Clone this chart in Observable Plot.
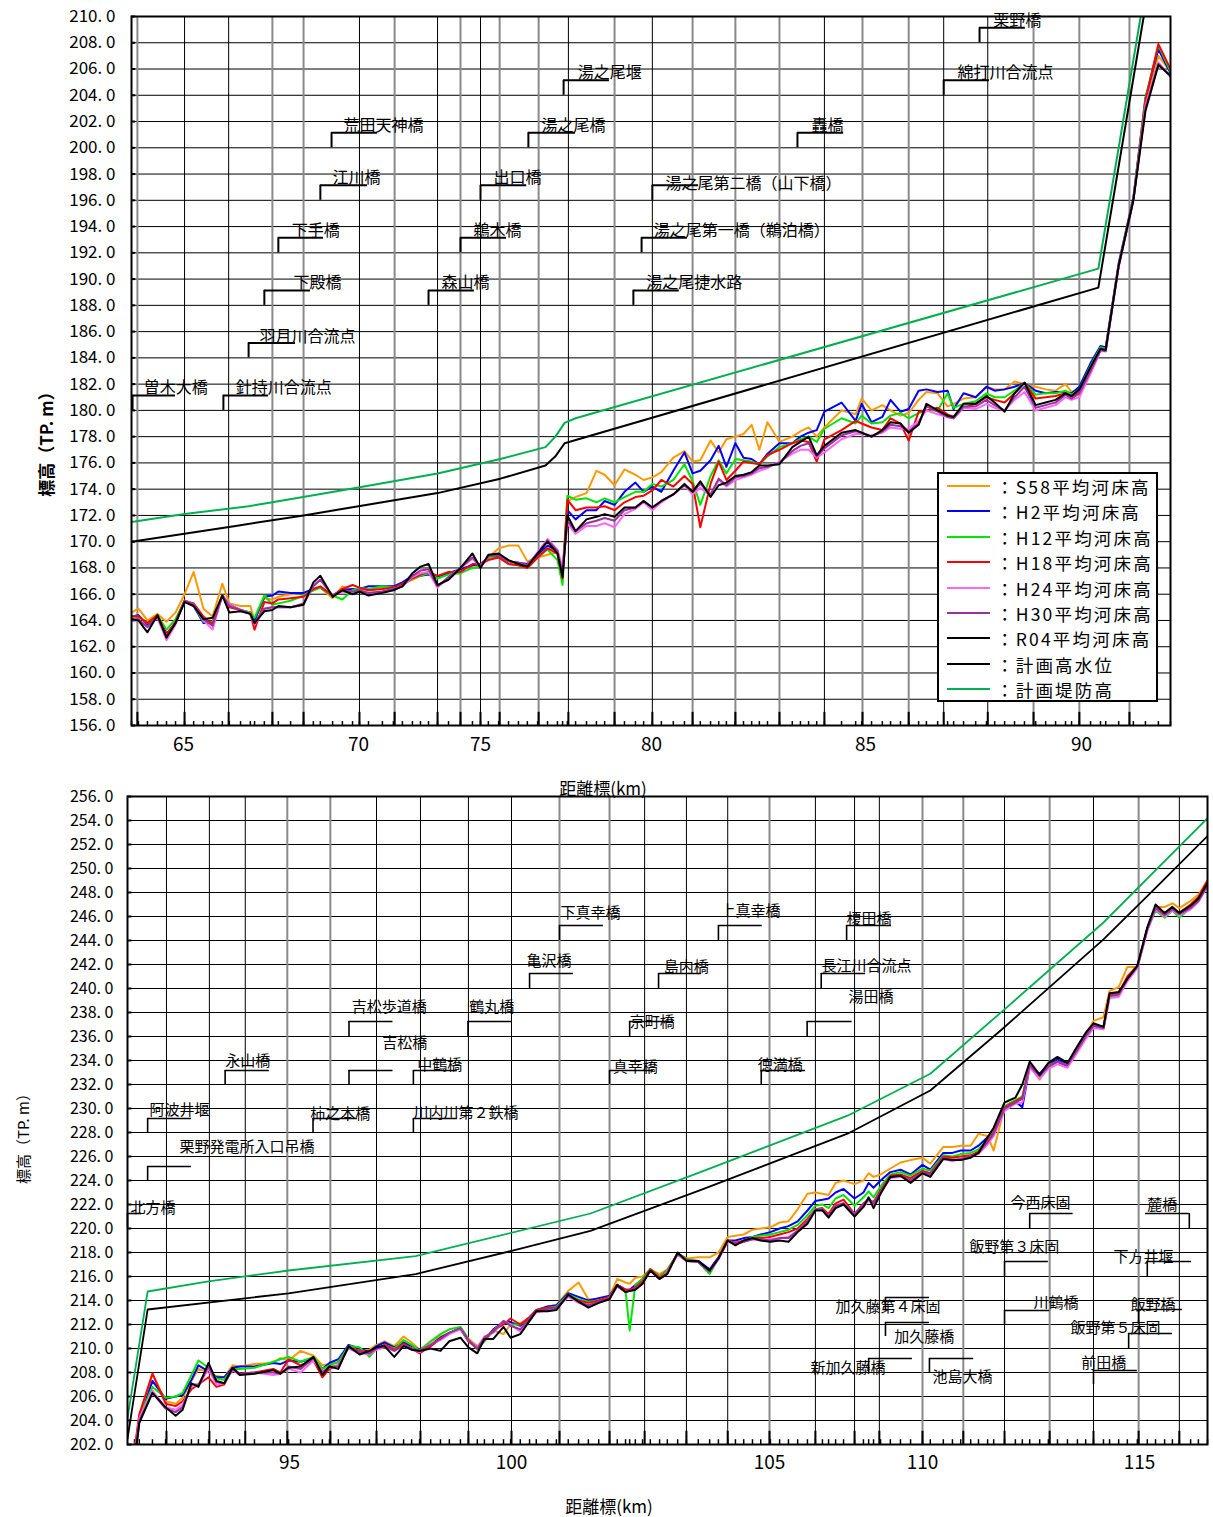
<!DOCTYPE html>
<html>
<head>
<meta charset="utf-8">
<script src="https://cdn.jsdelivr.net/npm/d3@7"></script>
<script src="https://cdn.jsdelivr.net/npm/@observablehq/plot@0.6"></script>
<style>
  body { margin: 0; background: #fff; font-family: "Noto Sans CJK JP", sans-serif; color: #000; }
  #page { position: relative; width: 1213px; height: 1517px; overflow: hidden; background: #fff; }
  .lbl { position: absolute; white-space: nowrap; transform: translate(-50%, -50%); line-height: 1; }
  .rot { transform: translate(-50%, -50%) rotate(-90deg); }
  #legend { position: absolute; left: 937px; top: 472px; width: 217px; height: 226px; border: 2px solid #000; background: #fff; }
  #legend .row { position: absolute; left: 0; height: 25px; width: 100%; }
  #legend .sw { position: absolute; left: 8px; top: 11px; width: 43px; height: 2px; }
  #legend .tx { position: absolute; left: 57px; top: 0; font-size: 17.5px; line-height: 25px; letter-spacing: 2.2px; white-space: nowrap; }
</style>
</head>
<body>
<div id="page"></div>
<script>
// ---- series ----
const seriesNames = ["S58平均河床高", "H2平均河床高", "H12平均河床高", "H18平均河床高", "H24平均河床高", "H30平均河床高", "R04平均河床高"];
const seriesColors = ["#ff9900", "#0000ff", "#00e600", "#ff0000", "#ff66ff", "#993399", "#000000"];
const planNames = ["計画高水位", "計画堤防高"];
const planColors = ["#000000", "#00b050"];

// ---- upper reach (63.5 – 92 km) ----
const topKm = [
  63.50,63.70,63.96,64.25,64.51,64.77,65.03,65.29,65.57,65.83,
  66.11,66.31,66.63,66.91,67.03,67.31,67.54,67.71,68.06,68.43,
  68.71,68.91,69.26,69.54,69.83,70.04,70.41,70.98,71.43,71.80,
  72.21,72.54,72.87,73.24,73.69,74.18,74.67,75.00,75.23,75.53,
  75.82,76.11,76.37,76.67,76.96,77.25,77.40,77.54,77.78,78.10,
  78.39,78.63,78.92,79.21,79.53,79.77,80.02,80.23,80.51,80.77,
  80.96,81.14,81.38,81.57,81.75,81.96,82.15,82.34,82.52,82.71,
  82.99,83.29,83.48,83.67,83.86,84.04,84.44,84.77,84.91,85.14,
  85.39,85.58,85.81,86.00,86.23,86.41,86.67,86.90,87.04,87.27,
  87.55,87.80,87.99,88.22,88.45,88.68,88.94,89.17,89.40,89.63,
  89.77,89.95,90.21,90.44,90.56,90.86,91.20,91.48,91.78,92.06
];
const topS58 = [
  164.6,164.9,164.0,164.5,163.9,164.6,166.0,167.7,164.9,164.3,
  166.8,165.3,165.1,165.1,164.0,165.7,165.6,165.8,166.0,166.1,
  166.3,166.5,165.7,166.6,166.3,166.4,166.3,166.5,166.6,166.8,
  167.1,167.4,167.7,167.3,167.6,167.9,168.2,168.1,168.8,169.5,
  169.7,169.7,168.5,168.8,169.0,169.2,167.9,173.1,173.4,173.7,
  175.4,175.1,174.3,175.5,175.1,174.7,174.9,175.3,176.4,176.9,
  176.1,176.2,177.7,176.8,177.8,178.0,178.2,178.9,177.0,179.1,
  177.6,178.0,178.4,178.7,178.0,178.7,180.0,179.7,180.9,180.0,
  180.4,180.0,179.6,179.8,180.8,181.4,181.3,180.3,180.5,180.9,
  181.0,181.8,181.6,181.6,182.2,182.0,181.8,181.6,181.5,182.0,
  181.4,181.6,183.3,184.8,184.7,191.0,196.0,203.5,207.0,205.8
];
const topH2 = [
  164.3,164.4,163.7,164.4,163.0,163.8,165.5,165.1,163.8,163.8,
  165.9,165.2,164.8,164.6,164.0,165.8,165.9,166.2,166.1,166.1,
  166.4,166.5,165.9,166.3,166.4,166.4,166.6,166.6,166.6,166.9,
  167.4,167.4,167.5,167.3,167.6,167.9,168.2,168.3,168.8,168.9,
  168.5,168.4,168.3,169.0,169.7,169.3,167.6,172.4,171.7,172.4,
  172.4,173.1,172.8,173.8,174.5,173.8,174.2,173.8,175.4,176.8,
  175.2,175.4,176.2,177.3,175.7,177.5,176.4,176.3,175.9,176.7,
  177.5,177.5,178.0,178.3,178.5,179.9,180.6,179.2,180.5,179.1,
  179.5,180.8,179.9,180.1,181.5,181.6,181.4,181.5,180.1,181.3,
  181.0,181.8,181.5,181.6,181.8,182.1,181.5,181.3,181.4,181.4,
  181.3,181.8,183.6,184.9,184.8,191.2,196.2,203.8,207.5,205.7
];
const topH12 = [
  164.3,164.3,163.8,164.4,163.3,164.1,165.5,165.2,163.9,163.9,
  165.9,165.1,164.8,164.6,164.2,165.9,165.2,165.3,165.5,165.9,
  166.3,166.5,165.9,165.6,166.3,166.5,166.4,166.6,166.5,166.7,
  167.2,167.4,167.6,167.2,167.5,167.6,168.0,168.1,168.8,168.8,
  168.3,168.2,168.0,168.8,169.4,168.6,166.7,173.5,173.2,173.3,
  173.0,173.3,173.0,173.4,173.8,173.8,174.4,174.2,174.7,175.9,
  174.6,172.8,175.0,176.2,175.2,176.3,176.2,176.1,175.9,176.5,
  177.2,177.5,177.8,178.0,177.6,178.6,179.4,179.0,179.6,179.0,
  179.1,179.6,179.8,179.4,179.8,180.0,180.0,181.3,180.2,180.5,
  180.7,181.3,181.0,181.0,181.5,182.1,181.2,181.3,181.3,181.5,
  181.2,181.6,183.4,184.8,184.7,191.1,196.1,203.8,207.8,205.8
];
const topH18 = [
  164.3,164.3,163.8,164.4,162.9,163.9,165.5,165.3,164.3,163.7,
  165.9,165.0,164.8,164.5,163.3,165.4,165.3,165.6,165.7,165.8,
  166.4,166.6,165.9,166.4,166.7,166.5,166.3,166.4,166.5,166.8,
  167.2,167.5,167.7,167.4,167.7,167.7,168.3,168.3,168.6,168.8,
  168.3,168.2,168.0,168.8,169.5,169.1,167.2,173.2,172.4,172.6,
  172.6,172.7,172.4,173.0,173.4,173.5,173.9,174.7,174.2,175.0,
  174.4,171.1,174.4,176.1,174.7,175.4,176.1,176.0,175.9,176.6,
  177.0,177.5,177.7,177.6,176.1,177.8,178.5,179.2,179.0,178.7,
  178.5,179.4,179.0,177.7,179.9,180.0,180.2,179.7,179.5,180.2,
  180.5,181.0,180.8,180.6,181.3,182.1,180.9,181.0,181.1,181.3,
  181.0,181.4,183.2,184.6,184.6,191.0,196.0,203.6,207.9,206.0
];
const topH24 = [
  164.0,164.0,163.5,164.2,162.5,163.7,165.5,165.2,164.0,163.3,
  165.9,165.2,164.8,164.5,163.7,164.9,165.0,165.0,165.0,165.2,
  166.7,167.1,165.9,166.2,166.1,166.3,166.1,166.2,166.4,166.6,
  167.3,167.6,167.7,166.5,167.3,168.0,168.7,168.1,168.9,169.0,
  168.5,168.4,168.2,169.2,170.2,169.4,168.0,171.4,170.6,171.2,
  171.2,171.4,171.1,172.1,172.5,173.0,172.4,173.0,173.6,174.3,
  173.6,174.1,173.5,174.7,174.2,174.7,174.9,175.1,175.4,175.6,
  176.1,176.7,177.0,177.0,176.4,176.8,177.8,178.2,178.2,178.1,
  178.3,178.7,178.6,178.6,179.2,180.0,179.7,179.5,179.4,180.2,
  180.1,180.5,180.2,180.0,180.8,181.4,180.0,180.2,180.4,181.0,
  180.8,181.0,182.8,184.5,184.5,190.9,196.0,203.2,206.5,205.4
];
const topH30 = [
  164.1,164.1,163.5,164.3,162.7,163.8,165.5,165.2,164.1,163.6,
  165.9,165.1,164.8,164.5,163.8,164.9,165.0,165.0,165.0,165.3,
  166.6,167.1,165.9,166.3,166.2,166.3,166.1,166.2,166.4,166.6,
  167.4,167.8,167.9,166.6,167.3,168.0,168.8,168.1,168.9,169.0,
  168.5,168.4,168.2,169.1,170.1,169.3,167.6,171.6,170.8,171.4,
  171.6,171.8,171.6,172.4,172.6,173.1,172.6,173.1,173.6,174.3,
  173.8,174.4,173.6,174.8,174.3,174.9,175.0,175.2,175.6,175.7,
  176.0,176.9,177.3,177.5,176.5,177.1,178.1,178.4,178.3,178.0,
  178.4,178.9,178.8,178.4,179.0,180.3,179.9,179.5,179.4,180.3,
  180.3,180.8,180.4,180.0,181.0,181.8,180.2,180.4,180.6,181.2,
  180.9,181.3,183.0,184.6,184.5,191.0,196.0,203.0,206.4,205.4
];
const topR04 = [
  164.1,164.0,163.1,164.4,162.7,163.8,165.4,165.1,164.1,164.2,
  165.9,164.6,164.7,164.5,163.8,164.7,164.8,165.1,165.0,165.2,
  166.9,167.4,165.8,166.3,166.0,166.2,165.9,166.1,166.3,166.6,
  167.6,168.1,168.3,166.7,167.1,168.0,169.1,168.0,169.0,169.1,
  168.6,168.3,168.1,169.1,170.0,169.1,167.3,172.0,170.8,171.7,
  171.9,172.1,171.9,172.6,172.6,173.1,172.6,173.1,173.6,174.4,
  173.8,174.6,173.4,174.3,174.5,175.0,175.1,175.3,175.8,175.8,
  175.9,177.2,177.6,178.0,176.6,177.3,178.3,178.5,178.3,178.0,
  178.5,179.1,179.0,178.3,178.9,180.5,180.0,179.6,179.5,180.5,
  180.5,181.1,180.6,179.9,181.3,182.1,180.4,180.6,180.8,181.3,
  181.1,181.6,183.3,184.7,184.6,191.0,196.0,202.8,206.3,205.5
];
const topHwlKm = [63.50, 66.49, 68.43, 70.00, 73.24, 75.58, 76.90, 77.19, 77.46, 90.39, 91.44];
const topHwl   = [170.0, 171.2, 172.0, 172.7, 173.7, 174.8, 175.8, 176.5, 177.5, 189.35, 210.0];
const topLeveeKm = [63.50, 65.03, 66.86, 67.54, 69.71, 73.24, 75.58, 76.90, 77.19, 77.46, 77.78, 90.39, 91.37];
const topLevee   = [171.5, 172.1, 172.7, 173.0, 174.0, 175.2, 176.3, 177.2, 178.0, 179.05, 179.4, 190.8, 210.0];
const topXTicks = [65, 70, 75, 80, 85, 90];
const topGridDark = [65.03, 66.29, 70.04, 73.24, 75.00, 77.57, 80.02, 84.04, 86.81, 87.83];
const topGridLight = [63.67, 67.54, 68.43, 71.48, 74.18, 75.56, 76.70, 78.92, 80.96, 81.96, 82.99, 84.93, 86.00, 88.89, 89.95, 91.11];
// [name, km, base, top, end km, text km, text elevation]
const topNotes = [
  ["曽木大橋", 63.53, 180, 181.14, 64.77, 63.85, 181.7],
  ["針持川合流点", 66.14, 180, 181.14, 67.43, 66.49, 181.7],
  ["羽月川合流点", 66.86, 184, 185.14, 68.20, 67.17, 185.6],
  ["下殿橋", 67.31, 188, 189.14, 68.63, 68.14, 189.7],
  ["下手橋", 67.71, 192, 193.14, 69.00, 68.09, 193.7],
  ["江川橋", 68.91, 196, 197.14, 70.37, 69.26, 197.7],
  ["荒田天神橋", 69.23, 200, 201.14, 70.78, 69.57, 201.7],
  ["森山橋", 72.87, 188, 189.14, 74.75, 73.40, 189.7],
  ["鵜木橋", 74.18, 192, 193.14, 75.76, 74.71, 193.7],
  ["出口橋", 75.00, 196, 197.14, 76.35, 75.38, 197.7],
  ["湯之尾橋", 76.40, 200, 201.14, 77.78, 76.78, 201.7],
  ["湯之尾堰", 77.43, 204, 205.14, 78.77, 77.84, 205.7],
  ["湯之尾捷水路", 79.47, 188, 189.14, 80.65, 79.85, 189.7],
  ["湯之尾第一橋（鵜泊橋）", 79.71, 192, 193.14, 80.84, 80.05, 193.7],
  ["湯之尾第二橋（山下橋）", 80.02, 196, 197.14, 81.10, 80.33, 197.25],
  ["轟橋", 83.41, 200, 201.14, 84.49, 83.74, 201.7],
  ["綿打川合流点", 86.81, 204, 205.14, 87.87, 87.13, 205.7],
  ["栗野橋", 87.64, 208, 209.14, 88.70, 87.96, 209.7]
];

// ---- lower reach (91.3 – 116.6 km) ----
const botKm = [
  91.46,91.57,91.87,92.17,92.40,92.56,92.76,92.92,93.15,93.33,
  93.51,93.70,93.86,94.20,94.63,94.79,94.98,95.25,95.54,95.74,
  95.90,96.10,96.33,96.58,96.80,96.96,97.14,97.36,97.57,97.75,
  97.93,98.18,98.40,98.60,98.85,99.03,99.23,99.39,99.59,99.82,
  99.98,100.17,100.35,100.48,100.70,100.87,101.10,101.30,101.49,101.69,
  101.90,102.05,102.21,102.29,102.40,102.54,102.69,102.87,103.02,103.22,
  103.39,103.62,103.84,104.01,104.19,104.34,104.50,104.67,104.83,105.03,
  105.33,105.62,105.92,106.24,106.50,106.73,106.93,107.16,107.42,107.78,
  108.07,108.24,108.40,108.63,108.95,109.28,109.61,110.00,110.18,110.48,
  110.69,110.88,111.11,111.29,111.50,111.64,111.89,112.14,112.30,112.47,
  112.70,112.90,113.11,113.34,113.57,113.76,113.94,114.17,114.31,114.52,
  114.72,114.95,115.18,115.37,115.58,115.76,115.92,116.18,116.36,116.57
];
const botS58 = [
  201.5,204.5,207.9,205.6,205.4,205.9,207.3,208.3,208.0,207.7,
  207.6,208.6,208.5,208.7,208.8,209.2,209.0,209.8,209.4,208.6,
  208.7,208.8,210.2,209.8,209.9,210.3,210.6,210.2,211.0,210.5,
  209.9,210.6,211.0,211.3,211.7,210.8,210.2,210.8,211.5,211.2,
  212.0,212.1,212.6,213.2,213.5,213.6,214.8,215.5,214.1,214.1,
  214.3,215.8,215.5,215.4,215.9,216.0,216.6,216.2,216.6,217.9,
  217.5,217.6,217.6,218.0,219.3,219.4,219.5,219.9,220.0,220.1,
  220.5,220.6,221.6,222.9,223.0,222.9,222.8,223.8,224.0,223.7,
  224.0,224.6,224.3,224.5,225.0,225.5,225.7,225.9,225.4,226.8,
  226.8,226.9,226.9,227.9,227.7,226.5,230.1,230.6,230.9,233.6,
  232.4,233.6,234.0,233.7,235.0,236.2,237.3,237.6,239.8,240.1,
  241.8,241.8,245.0,246.8,246.8,247.1,246.7,247.3,247.8,249.0
];
const botH2 = [
  200.5,204.0,207.3,205.8,206.0,206.1,207.4,208.6,208.1,207.6,
  207.6,208.4,208.5,208.5,208.8,208.7,209.0,208.9,209.2,208.3,
  208.8,209.1,210.3,210.0,209.7,210.2,210.5,210.1,210.5,210.2,
  209.9,210.3,210.9,211.3,211.7,210.6,210.1,210.7,211.6,212.2,
  212.2,211.9,212.6,213.2,213.5,213.6,214.6,214.3,214.0,214.2,
  214.4,215.3,214.9,214.9,215.3,215.8,216.6,216.0,216.5,217.9,
  217.4,217.3,216.6,217.6,219.0,219.0,219.2,219.3,219.5,219.7,
  220.0,220.2,220.6,221.5,222.3,222.4,222.5,223.0,223.3,222.5,
  223.0,223.8,223.4,224.0,224.7,224.9,224.5,225.3,224.9,226.3,
  226.3,226.5,226.5,226.9,227.6,228.2,230.0,230.6,230.1,233.5,
  232.9,233.7,234.1,233.7,235.0,236.1,237.0,236.8,239.4,239.5,
  240.7,241.8,245.0,246.8,246.2,246.6,246.3,246.9,247.5,248.9
];
const botH12 = [
  201.0,204.3,206.8,205.9,206.0,206.3,207.8,209.0,208.4,207.5,
  207.4,208.3,208.3,208.4,208.9,209.1,209.3,208.9,209.3,208.3,
  208.6,208.9,210.2,210.1,209.3,210.0,210.3,210.0,210.7,210.3,
  209.8,210.6,211.2,211.6,211.8,210.8,209.9,210.6,211.5,212.2,
  212.0,212.0,212.5,213.2,213.4,213.5,214.5,214.1,213.9,214.0,
  214.3,215.3,214.8,211.5,215.3,215.8,216.6,216.0,216.5,217.9,
  217.5,217.2,216.2,217.5,219.0,218.8,218.9,219.3,219.4,219.5,
  219.7,219.9,220.3,221.1,221.9,222.0,221.7,222.5,222.8,221.9,
  222.6,223.1,222.6,223.5,224.5,224.7,224.4,225.0,224.8,226.1,
  226.0,226.2,226.3,226.6,227.4,228.1,230.2,230.7,231.0,233.6,
  232.6,233.6,233.9,233.6,234.9,236.0,236.8,236.6,239.3,239.4,
  240.8,241.8,244.9,246.5,245.9,246.5,245.9,246.7,247.4,248.8
];
const botH18 = [
  201.5,204.5,207.9,205.4,205.2,205.6,206.6,207.0,207.6,206.8,
  207.0,208.4,207.9,208.0,208.3,208.0,209.1,208.6,209.0,207.6,
  208.3,208.6,210.1,209.8,209.7,210.0,210.3,209.9,210.4,210.0,
  209.6,210.2,210.8,211.3,211.6,210.6,210.0,210.7,211.5,212.0,
  212.5,212.0,212.6,213.2,213.4,213.4,214.4,214.0,213.8,214.0,
  214.3,215.3,214.9,214.9,215.1,215.6,216.6,215.9,216.4,217.9,
  217.4,217.2,216.5,217.5,219.0,218.8,219.0,219.2,219.2,219.3,
  219.5,219.7,220.0,220.8,221.6,221.7,221.2,222.1,222.4,221.2,
  222.1,222.4,222.2,223.2,224.4,224.5,224.2,224.8,224.6,226.0,
  225.9,226.0,226.1,226.4,227.3,228.0,230.1,230.6,230.9,233.6,
  232.7,233.5,233.9,233.5,234.9,236.0,236.9,236.7,239.5,239.6,
  241.0,241.9,245.0,246.8,246.2,246.6,246.3,247.0,247.6,249.0
];
const botH24 = [
  201.0,204.2,206.5,205.1,204.9,205.3,206.9,206.9,208.3,207.0,
  207.1,208.2,207.8,208.0,207.8,207.9,208.3,208.0,209.0,208.1,
  208.4,208.6,210.0,209.6,209.5,209.9,210.1,209.8,210.2,209.9,
  209.7,210.4,210.7,211.2,211.6,210.7,210.1,211.0,211.3,212.3,
  212.0,211.4,212.3,213.0,213.2,213.3,214.3,213.8,213.5,213.8,
  214.2,215.2,214.7,214.8,214.9,215.4,216.5,215.8,216.4,217.8,
  217.3,217.2,216.4,217.4,218.9,218.7,218.9,219.1,219.0,219.1,
  219.2,219.3,219.8,220.6,221.6,221.6,221.0,221.9,222.1,221.2,
  221.8,222.3,222.0,223.0,224.2,224.3,224.0,224.6,224.4,225.8,
  225.6,225.8,226.0,226.2,227.0,227.7,229.8,230.4,230.5,233.4,
  232.5,233.3,233.7,233.4,234.7,235.8,236.7,236.6,239.2,239.3,
  240.6,241.7,244.8,246.6,246.0,246.5,246.1,246.6,247.2,248.5
];
const botH30 = [
  201.0,204.0,206.3,205.0,204.7,205.1,207.0,207.0,208.5,207.2,
  207.1,208.3,207.9,208.0,208.0,207.9,208.5,208.3,209.2,208.0,
  208.5,208.5,210.1,209.7,209.6,210.0,210.2,209.8,210.3,210.0,
  209.8,210.3,210.8,211.3,211.7,210.7,210.0,210.9,211.4,212.3,
  211.9,211.6,212.5,213.1,213.3,213.4,214.4,213.9,213.6,213.9,
  214.2,215.2,214.7,214.8,215.0,215.5,216.5,215.8,216.3,217.9,
  217.3,217.2,216.4,217.5,219.0,218.7,218.9,219.1,219.1,219.0,
  219.2,219.2,219.8,220.6,221.6,221.6,221.0,221.9,222.1,221.2,
  222.0,222.5,222.1,223.1,224.3,224.4,224.0,224.7,224.5,225.9,
  225.7,225.8,226.0,226.3,227.2,227.9,230.0,230.5,230.8,233.6,
  232.7,233.5,233.9,233.6,234.9,236.0,236.9,236.7,239.4,239.5,
  240.8,241.8,244.9,246.7,246.1,246.6,246.2,246.7,247.3,248.6
];
const botR04 = [
  200.5,203.8,206.3,205.1,204.4,204.9,207.1,206.8,208.8,207.3,
  207.1,208.4,207.8,207.9,208.2,207.9,208.4,208.5,209.3,207.8,
  208.5,208.3,210.2,209.5,209.8,210.1,210.2,209.3,210.2,209.9,
  209.8,210.0,209.8,210.6,210.9,210.1,209.6,210.8,210.8,211.8,
  210.9,211.2,212.3,213.1,213.1,213.2,214.5,213.9,213.4,213.8,
  214.1,215.3,214.7,214.8,214.9,215.4,216.5,215.8,216.2,218.0,
  217.3,217.3,216.5,217.5,219.0,218.6,219.0,219.2,219.0,218.9,
  219.0,218.9,219.7,220.4,221.5,221.5,220.9,221.7,222.0,221.0,
  221.8,222.6,221.7,222.9,224.3,224.4,223.8,224.6,224.3,225.8,
  225.7,225.7,225.9,226.3,227.6,228.4,230.5,230.9,232.0,233.9,
  232.8,233.8,234.3,233.8,235.2,236.3,237.1,236.8,239.6,239.7,
  240.8,241.9,245.1,247.0,246.3,246.8,246.3,246.9,247.5,248.8
];
const botHwlKm = [91.30, 91.76, 94.98, 97.84, 100.06, 101.53, 103.66, 107.55, 110.18, 111.80, 114.17, 115.32, 116.57];
const botHwl   = [202.5, 213.25, 214.6, 216.2, 218.2, 219.8, 223.2, 227.9, 231.5, 236.5, 244.1, 248.2, 252.7];
const botLeveeKm = [91.30, 91.76, 93.15, 94.98, 97.84, 101.53, 103.66, 107.55, 110.18, 111.87, 114.17, 116.57];
const botLevee   = [204.2, 214.75, 215.6, 216.5, 217.7, 221.25, 224.7, 229.4, 232.9, 238.2, 245.5, 254.2];
const botXTicks = [95, 100, 105, 110, 115];
const botGridDark = [92.19, 93.17, 93.99, 96.96, 97.95, 99.03, 100.0, 102.58, 103.39, 104.19, 106.50, 107.78, 108.59, 111.89, 113.94, 115.92];
const botGridLight = [94.95, 95.92, 100.93, 101.90, 105.0, 110.0, 110.94, 112.93, 114.98];
const botNotes = [
  ["北方橋", 91.30, 220, 221.25, 91.62, 91.37, 221.67],
  ["栗野発電所入口吊橋", 91.76, 224, 225.17, 92.76, 92.49, 226.75],
  ["阿波井堰", 91.76, 228, 229.17, 92.76, 91.80, 229.83],
  ["柿之本橋", 95.53, 228, 229.17, 96.53, 95.47, 229.5],
  ["川内川第２鉄橋", 97.79, 228, 229.17, 98.78, 97.79, 229.58],
  ["永山橋", 93.53, 232, 233.17, 94.54, 93.53, 233.92],
  ["吉松橋", 96.34, 232, 233.17, 97.33, 97.09, 235.42],
  ["中鶴橋", 97.79, 232, 233.17, 98.78, 97.88, 233.58],
  ["真幸橋", 101.90, 232, 233.17, 102.75, 101.96, 233.42],
  ["徳満橋", 104.84, 232, 233.17, 106.18, 104.77, 233.58],
  ["吉松歩道橋", 96.34, 236, 237.25, 97.33, 96.40, 238.42],
  ["鶴丸橋", 99.02, 236, 237.25, 100.02, 99.05, 238.42],
  ["京町橋", 102.29, 236, 237.25, 103.14, 102.29, 237.17],
  ["湯田橋", 106.23, 236, 237.25, 107.70, 107.58, 239.25],
  ["亀沢橋", 100.35, 240, 241.25, 101.20, 100.29, 242.25],
  ["島内橋", 102.85, 240, 241.25, 103.68, 102.95, 241.75],
  ["長江川合流点", 106.69, 240, 241.25, 108.14, 106.70, 241.83],
  ["下真幸橋", 100.93, 244, 245.25, 101.78, 100.95, 246.25],
  ["上真幸橋", 104.01, 244, 245.25, 104.86, 104.05, 246.42],
  ["榎田橋", 107.52, 244, 245.25, 108.99, 107.52, 245.75],
  ["今西床固", 112.47, 220, 221.25, 113.47, 112.03, 222.08],
  ["麓橋", 116.15, 220, 221.25, 115.14, 115.18, 221.92],
  ["飯野第３床固", 111.89, 216, 217.25, 112.90, 111.08, 218.42],
  ["下方井堰", 115.18, 216, 217.25, 116.20, 114.40, 217.58],
  ["加久藤第４床固", 108.79, 213.1, 214.25, 110.16, 107.16, 213.42],
  ["加久藤橋", 108.79, 211, 212.17, 110.16, 109.08, 210.92],
  ["新加久藤橋", 108.24, 208, 209.17, 109.67, 106.34, 208.33],
  ["池島大橋", 110.16, 208, 209.17, 111.18, 110.23, 207.58],
  ["川鶴橋", 111.89, 212, 213.17, 112.93, 112.56, 213.75],
  ["飯野橋", 114.98, 212, 213.25, 115.99, 114.79, 213.58],
  ["飯野第５床固", 114.75, 210, 211.25, 115.76, 113.41, 211.67],
  ["前田橋", 113.94, 207, 208.17, 114.95, 113.66, 208.75]
];

// ---- drawing ----
const fmt = (d) => d.toFixed(1).replace(".", ". ");
const page = document.getElementById("page");
const FONT = "'Noto Sans CJK JP', sans-serif";

function panel(o) {
  const x0 = o.xDomain[0], y0 = o.yDomain[0];
  const yTicks = d3.range(o.yDomain[0], o.yDomain[1] + 0.1, 2);
  const lines = [];
  o.plans.forEach((p) => {
    lines.push(Plot.line(p.km.map((k, j) => ({k, v: p.v[j]})),
      {x: "k", y: "v", stroke: p.color, strokeWidth: o.planWidth, clip: true}));
  });
  o.series.forEach((vals, i) => {
    lines.push(Plot.line(o.km.map((k, j) => ({k, v: vals[j]})),
      {x: "k", y: "v", stroke: seriesColors[i], strokeWidth: 2, clip: true}));
  });
  const notes = o.notes.map(([label, k, base, top, end, tx, ty]) => ({label, k, base, top, end, tx, ty}));
  return Plot.plot({
    width: 1213,
    height: o.height,
    marginTop: o.mt, marginBottom: o.mb, marginLeft: o.ml, marginRight: o.mr,
    style: {fontFamily: FONT, fontSize: "16px", color: "#000", background: "transparent", overflow: "visible"},
    x: {type: "linear", domain: o.xDomain, range: o.xRange},
    y: {domain: o.yDomain},
    marks: [
      Plot.ruleY(yTicks, {stroke: "#000", strokeWidth: 1}),
      Plot.ruleX(o.gridLight, {stroke: "#8a8a8a", strokeWidth: 2}),
      Plot.ruleX(o.gridDark, {stroke: "#000", strokeWidth: 1}),
      Plot.ruleX(o.km, {y1: y0, y2: y0 + o.minorTick, stroke: "#000", strokeWidth: 1.5}),
      Plot.ruleX(o.gridDark.concat(o.gridLight), {y1: y0, y2: y0 + o.majorTick, stroke: "#000", strokeWidth: 2}),
      Plot.ruleY(yTicks, {x1: x0, x2: x0 + o.yTickLen, stroke: "#000", strokeWidth: 2}),
      ...lines,
      Plot.ruleX(notes, {x: "k", y1: "base", y2: "top", stroke: "#000", strokeWidth: o.noteStroke}),
      Plot.ruleY(notes, {y: "top", x1: "k", x2: "end", stroke: "#000", strokeWidth: o.noteStroke}),
      Plot.text(notes, {x: "tx", y: "ty", text: "label", textAnchor: "start", fontSize: o.noteFont, fill: "#000"}),
      Plot.axisX({ticks: o.xTicks, tickSize: 0, tickPadding: o.xPad, fontSize: 19, label: null}),
      Plot.axisY({ticks: yTicks, tickSize: 0, tickPadding: o.yPad, fontSize: o.yFont, tickFormat: fmt, label: null}),
      Plot.frame({stroke: "#000", strokeWidth: 2})
    ]
  });
}

function place(el, left, top) {
  const w = document.createElement("div");
  w.style.cssText = `position:absolute;left:${left}px;top:${top}px;`;
  w.appendChild(el);
  page.appendChild(w);
}

function label(text, cx, cy, size, extra) {
  const d = document.createElement("div");
  d.className = "lbl" + (extra && extra.rot ? " rot" : "");
  d.style.left = cx + "px";
  d.style.top = cy + "px";
  d.style.fontSize = size + "px";
  if (extra && extra.bold) d.style.fontWeight = "bold";
  d.textContent = text;
  page.appendChild(d);
}

const topChart = panel({
  km: topKm,
  series: [topS58, topH2, topH12, topH18, topH24, topH30, topR04],
  plans: [
    {km: topHwlKm, v: topHwl, color: planColors[0]},
    {km: topLeveeKm, v: topLevee, color: planColors[1]}
  ],
  notes: topNotes,
  xDomain: [63.5, 65, 70, 75, 80, 85, 90, 92.06],
  xRange: [131, 183, 358, 480, 651, 865, 1081, 1170],
  yDomain: [156, 210],
  xTicks: topXTicks,
  gridDark: topGridDark, gridLight: topGridLight,
  height: 770, mt: 16, mb: 45, ml: 131, mr: 43,
  minorTick: 0.3, majorTick: 1.0, yTickLen: 0.12,
  planWidth: 2, noteStroke: 2, noteFont: 16,
  xPad: 12, yPad: 16, yFont: 17
});
place(topChart, 0, 0);

const botChart = panel({
  km: botKm,
  series: [botS58, botH2, botH12, botH18, botH24, botH30, botR04],
  plans: [
    {km: botHwlKm, v: botHwl, color: planColors[0]},
    {km: botLeveeKm, v: botLevee, color: planColors[1]}
  ],
  notes: botNotes,
  xDomain: [91.3, 95, 100, 105, 110, 115, 116.57],
  xRange: [127, 289, 511, 769, 922, 1139, 1207],
  yDomain: [202, 256],
  xTicks: botXTicks,
  gridDark: botGridDark, gridLight: botGridLight,
  height: 725, mt: 16, mb: 61, ml: 127, mr: 6,
  minorTick: 0.4, majorTick: 1.1, yTickLen: 0.1,
  planWidth: 1.8, noteStroke: 1.6, noteFont: 15,
  xPad: 11, yPad: 14, yFont: 16
});
place(botChart, 0, 780);

label("距離標(km)", 603, 787, 17);
label("距離標(km)", 609, 1505, 17);
label("標高（TP. m）", 45, 440, 17, {rot: true, bold: true});
label("標高（TP. m）", 22, 1135, 15, {rot: true});

// legend box inside the upper chart
const legend = document.createElement("div");
legend.id = "legend";
seriesNames.concat(planNames).forEach((name, i) => {
  const color = seriesColors.concat(planColors)[i];
  const row = document.createElement("div");
  row.className = "row";
  row.style.top = (i * 25.4) + "px";
  const sw = document.createElement("div");
  sw.className = "sw";
  sw.style.background = color;
  const tx = document.createElement("div");
  tx.className = "tx";
  tx.textContent = "：" + name;
  row.appendChild(sw);
  row.appendChild(tx);
  legend.appendChild(row);
});
page.appendChild(legend);
</script>
</body>
</html>
